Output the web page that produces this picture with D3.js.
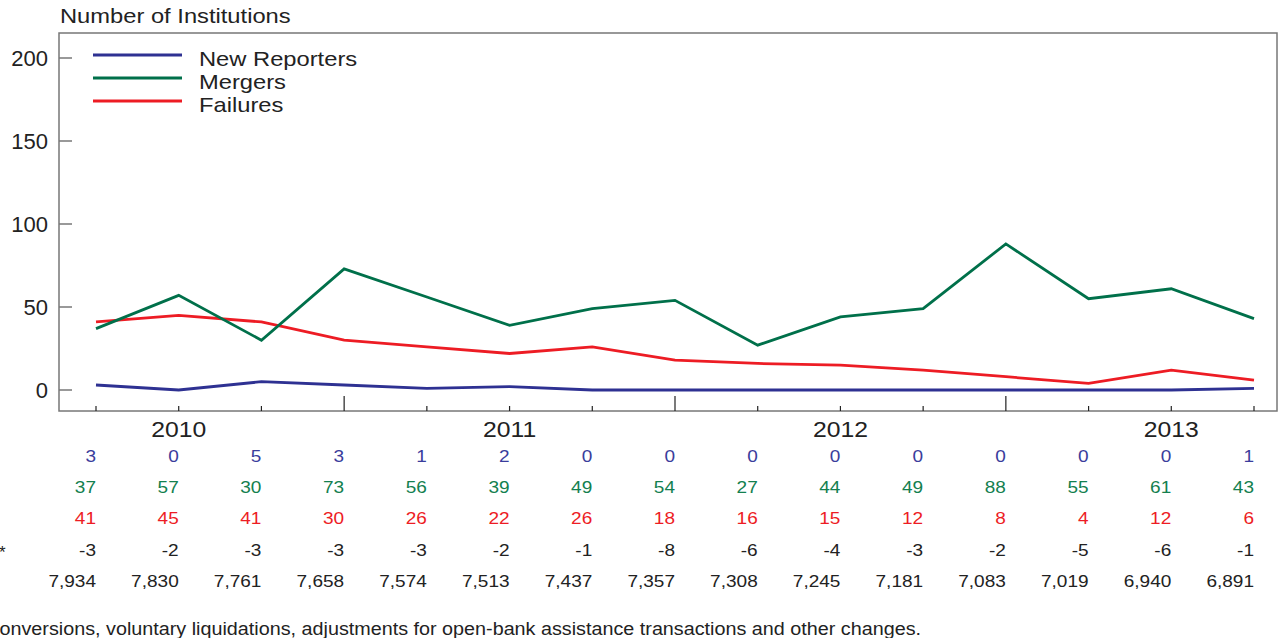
<!DOCTYPE html>
<html>
<head>
<meta charset="utf-8">
<script src="https://cdn.jsdelivr.net/npm/d3@7"></script>
<style>
  body { margin: 0; background: #fff; }
  svg { display: block; font-family: "Liberation Sans", Arial, sans-serif; }
</style>
</head>
<body>
<svg class="chart" width="1282" height="638"></svg>
<script>
// quarters 2010Q1 .. 2013Q3
var quarters = ["2010Q1","2010Q2","2010Q3","2010Q4","2011Q1","2011Q2","2011Q3","2011Q4",
                "2012Q1","2012Q2","2012Q3","2012Q4","2013Q1","2013Q2","2013Q3"];
var newReporters = [3, 0, 5, 3, 1, 2, 0, 0, 0, 0, 0, 0, 0, 0, 1];
var mergers = [37, 57, 30, 73, 56, 39, 49, 54, 27, 44, 49, 88, 55, 61, 43];
var failures = [41, 45, 41, 30, 26, 22, 26, 18, 16, 15, 12, 8, 4, 12, 6];
var otherChanges = [-3, -2, -3, -3, -3, -2, -1, -8, -6, -4, -3, -2, -5, -6, -1];
var totals = [7934, 7830, 7761, 7658, 7574, 7513, 7437, 7357, 7308, 7245, 7181, 7083, 7019, 6940, 6891];
var yTicks = [0, 50, 100, 150, 200];
var yearLabels = [{q: "2010Q2", label: "2010"}, {q: "2011Q2", label: "2011"},
                  {q: "2012Q2", label: "2012"}, {q: "2013Q2", label: "2013"}];
var yearTicks = ["2010Q4", "2011Q4", "2012Q4"];

var series = [
  {name: "New Reporters", values: newReporters, color: "#2e3192"},
  {name: "Mergers", values: mergers, color: "#00704a"},
  {name: "Failures", values: failures, color: "#ed1c24"}
];

var svg = d3.select("svg.chart"),
  box = {left: 59, top: 33, right: 1277, bottom: 411},
  SX = 1.13; // the source type is a bit wider than Liberation Sans

var x = d3.scalePoint().domain(quarters).range([96, 1254]);
var y = d3.scaleLinear().domain([0, 200]).range([390, 58]);

// text helper, stretched horizontally around its anchor
var label = function(sel, px, py, size, anchor, color, txt, sx) {
  return sel.append("text")
    .attr("transform", "translate(" + px + "," + py + ") scale(" + (sx || SX) + ",1)")
    .attr("font-size", size).attr("text-anchor", anchor || "start")
    .attr("fill", color || "#222").text(txt);
};

// frame
svg.append("rect")
  .attr("x", box.left).attr("y", box.top)
  .attr("width", box.right - box.left).attr("height", box.bottom - box.top)
  .attr("fill", "none").attr("stroke", "#777").attr("stroke-width", 1.5);

// y ticks (inward)
var yg = svg.append("g");
yg.selectAll("line").data(yTicks).enter().append("line")
  .attr("x1", box.left).attr("x2", box.left + 13)
  .attr("y1", function(d) { return y(d); }).attr("y2", function(d) { return y(d); })
  .attr("stroke", "#777").attr("stroke-width", 1.5);
yTicks.forEach(function(d) { label(yg, 48, y(d) + 8, 22, "end", "#222", d, 1.0); });

label(svg, 60, 23, 21, "start", "#222", "Number of Institutions");

// x ticks (inward from bottom)
svg.append("g").selectAll("line").data(quarters).enter().append("line")
  .attr("x1", function(d) { return x(d); }).attr("x2", function(d) { return x(d); })
  .attr("y1", box.bottom)
  .attr("y2", function(d) { return yearTicks.indexOf(d) >= 0 ? box.bottom - 15 : box.bottom - 5; })
  .attr("stroke", "#222").attr("stroke-width", 1.2);

var xg = svg.append("g");
yearLabels.forEach(function(d) { label(xg, x(d.q), 437, 21.5, "middle", "#222", d.label, 1.15); });

// lines
var line = d3.line()
  .x(function(d, i) { return x(quarters[i]); })
  .y(function(d) { return y(d); });

svg.append("g").selectAll("path").data(series.slice().reverse()).enter().append("path")
  .attr("d", function(s) { return line(s.values); })
  .attr("fill", "none").attr("stroke", function(s) { return s.color; })
  .attr("stroke-width", 2.8).attr("stroke-linejoin", "miter");

// legend
var lg = svg.append("g");
series.forEach(function(s, i) {
  var ly = 55 + i * 23;
  lg.append("line").attr("x1", 93).attr("x2", 182).attr("y1", ly).attr("y2", ly)
    .attr("stroke", s.color).attr("stroke-width", 2.8);
  label(lg, 199, ly + 11, 21, "start", "#222", s.name);
});

// data table
var rows = [
  {values: newReporters, color: "#3a3d9c"},
  {values: mergers, color: "#13804f"},
  {values: failures, color: "#ed1c24"},
  {values: otherChanges, color: "#222", mark: "*"},
  {values: totals, color: "#222", fmt: d3.format(",")}
];
var tg = svg.append("g");
rows.forEach(function(r, ri) {
  var ry = 462 + ri * 31.2;
  r.values.forEach(function(v, i) {
    label(tg, x(quarters[i]), ry, 17, "end", r.color, r.fmt ? r.fmt(v) : String(v), 1.12);
  });
  if (r.mark) label(tg, -1, ry + 2, 17, "start", r.color, r.mark, 1.0);
});

// footnote (left part falls outside the crop of the source)
label(svg, 921, 635, 17.5, "end", "#222",
  "onversions, voluntary liquidations, adjustments for open-bank assistance transactions and other changes.", 1.13);
</script>
</body>
</html>
